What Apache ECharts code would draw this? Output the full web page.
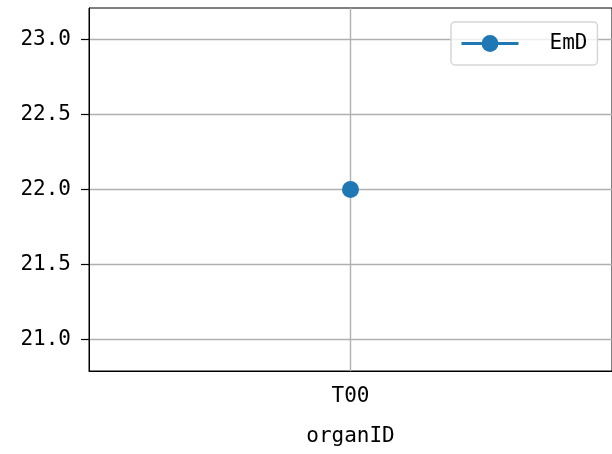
<!DOCTYPE html>
<html><head><meta charset="utf-8">
<script src="https://cdn.jsdelivr.net/npm/echarts@6/dist/echarts.min.js"></script>
<style>html,body{margin:0;padding:0;background:#fff}#c{width:612px;height:454px}</style>
</head><body><div id="c"></div>
<script>
const categories = ['T00'];
const seriesName = 'EmD';
const values = [22.0];
const yTicks = [21.0, 21.5, 22.0, 22.5, 23.0];
const yMin = 20.79, yMax = 23.21;

const FONT = 'DejaVu Sans Mono';
const chart = echarts.init(document.getElementById('c'), null, {renderer: 'canvas'});
chart.setOption({
  animation: false,
  grid: {left: 89, top: 8, width: 525, height: 363, show: true, borderColor: '#000', borderWidth: 1, containLabel: false},
  legend: {
    data: [seriesName], left: 451, top: 22, padding: [11, 10, 11, 9],
    itemWidth: 57, itemHeight: 21,
    borderColor: '#d6d6d6', borderWidth: 1.5, borderRadius: 4, backgroundColor: 'rgba(255,255,255,0.8)',
    lineStyle: {width: 3},
    textStyle: {fontFamily: FONT, fontSize: 21, color: '#000', padding: [0, 0, 0, 26]}
  },
  xAxis: {
    type: 'category', data: categories, boundaryGap: true,
    name: 'organID', nameLocation: 'middle', nameGap: 55,
    nameTextStyle: {fontFamily: FONT, fontSize: 21, color: '#000'},
    axisLine: {lineStyle: {color: '#000', width: 1}},
    axisTick: {alignWithLabel: true, length: 8, lineStyle: {color: '#000', width: 1.2}},
    axisLabel: {fontFamily: FONT, fontSize: 21, color: '#000', margin: 15},
    splitLine: {show: true, alignWithLabel: true, lineStyle: {color: '#b0b0b0', width: 1.4}}
  },
  yAxis: {
    type: 'value', min: yMin, max: yMax,
    axisLine: {show: true, lineStyle: {color: '#000', width: 1}},
    axisTick: {show: true, length: 8, customValues: yTicks, lineStyle: {color: '#000', width: 1.2}},
    axisLabel: {fontFamily: FONT, fontSize: 21, color: '#000', margin: 18, customValues: yTicks,
      formatter: v => v.toFixed(1)},
    splitLine: {show: true, lineStyle: {color: '#b0b0b0', width: 1.4}}
  },
  series: [{
    name: seriesName, type: 'line', data: values,
    symbol: 'circle', symbolSize: 17,
    itemStyle: {color: '#1f77b4'},
    lineStyle: {color: '#1f77b4', width: 3}
  }]
});
</script></body></html>
